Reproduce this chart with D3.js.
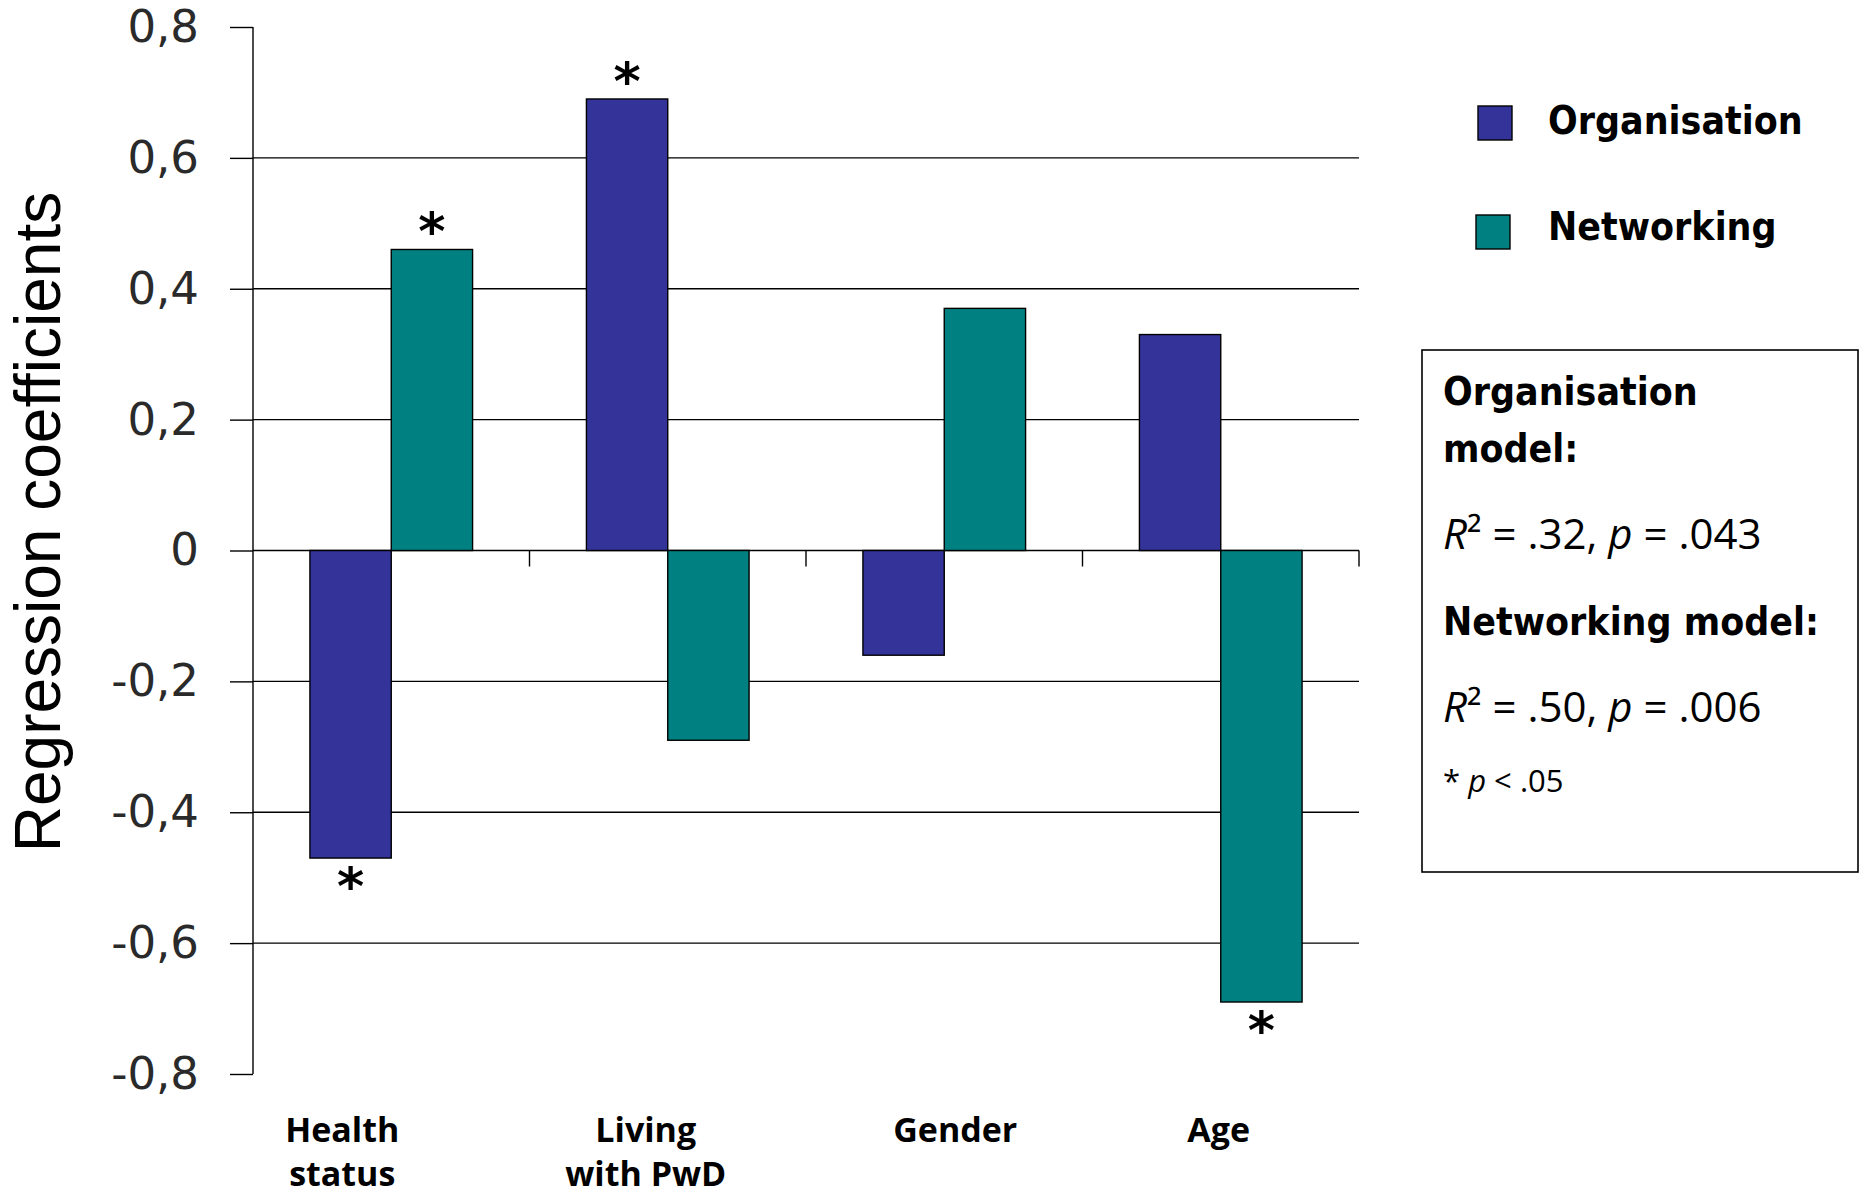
<!DOCTYPE html>
<html>
<head>
<meta charset="utf-8">
<script src="https://cdn.jsdelivr.net/npm/d3@7"></script>
<style>
  body { margin: 0; background: #fff; }
  svg { display: block; }
</style>
</head>
<body>
<div class="container"></div>
<script>
// chart data
const categories = ["Health status", "Living with PwD", "Gender", "Age"];
const categoryLines = [["Health", "status"], ["Living", "with PwD"], ["Gender"], ["Age"]];
const series = ["Organisation", "Networking"];
const organisation = [-0.47, 0.69, -0.16, 0.33];
const networking = [0.46, -0.29, 0.37, -0.69];
const organisationSig = [true, true, false, false];
const networkingSig = [true, false, false, true];
const yTicks = [-0.8, -0.6, -0.4, -0.2, 0, 0.2, 0.4, 0.6, 0.8];
const colors = ["#333399", "#008080"];

const w = 1860;
const h = 1192;
// label nudges, the source labels sit a bit off the group centres
const labelShift = [-49, -22, 11, -2];

const svg = d3.select(".container")
  .append("svg")
  .attr("width", w)
  .attr("height", h);

const y = d3.scaleLinear()
  .domain([-0.8, 0.8])
  .range([1074, 27]);

const x0 = d3.scaleBand()
  .domain(categories)
  .range([253, 1359]);

const x1 = d3.scaleBand()
  .domain(series)
  .range([0, x0.bandwidth()])
  .paddingOuter(0.7);

const locale = d3.formatLocale({decimal: ",", thousands: ".", grouping: [3], currency: ["", ""], minus: "-"});
const fmt = locale.format(".1f");

// gridlines
svg.append("g")
  .selectAll("line")
  .data(yTicks.filter(d => d !== 0 && Math.abs(d) < 0.8))
  .join("line")
  .attr("x1", 253)
  .attr("x2", 1359)
  .attr("y1", d => y(d))
  .attr("y2", d => y(d))
  .attr("stroke", "#000")
  .attr("stroke-width", 1.4);

// y axis
const yAxis = d3.axisLeft(y)
  .tickValues(yTicks)
  .tickSize(23)
  .tickPadding(31)
  .tickFormat(d => d === 0 ? "0" : fmt(d));

const gy = svg.append("g")
  .attr("transform", "translate(253,0)")
  .call(yAxis);
gy.select(".domain").remove();
gy.selectAll(".tick line").attr("stroke", "#000").attr("stroke-width", 1.4);
gy.selectAll(".tick text")
  .attr("font-family", "DejaVu Sans")
  .attr("font-size", 45)
  .attr("fill", "#2a2a2a");

gy.append("line")
  .attr("x1", 0).attr("x2", 0)
  .attr("y1", y(0.8)).attr("y2", y(-0.8))
  .attr("stroke", "#000")
  .attr("stroke-width", 1.4);

// zero line and group ticks
svg.append("line")
  .attr("x1", 253).attr("x2", 1359)
  .attr("y1", y(0)).attr("y2", y(0))
  .attr("stroke", "#000")
  .attr("stroke-width", 1.4);

svg.append("g")
  .selectAll("line")
  .data(categories)
  .join("line")
  .attr("x1", d => x0(d) + x0.bandwidth())
  .attr("x2", d => x0(d) + x0.bandwidth())
  .attr("y1", y(0))
  .attr("y2", y(0) + 16)
  .attr("stroke", "#000")
  .attr("stroke-width", 1.4);

// bars
const rows = categories.map((c, i) => ({
  cat: c,
  vals: [
    {s: series[0], v: organisation[i], sig: organisationSig[i], c: colors[0]},
    {s: series[1], v: networking[i], sig: networkingSig[i], c: colors[1]}
  ]
}));

const groups = svg.append("g")
  .selectAll("g")
  .data(rows)
  .join("g")
  .attr("transform", d => "translate(" + x0(d.cat) + ",0)");

groups.selectAll("rect")
  .data(d => d.vals)
  .join("rect")
  .attr("x", d => x1(d.s))
  .attr("width", x1.bandwidth())
  .attr("y", d => Math.min(y(d.v), y(0)))
  .attr("height", d => Math.abs(y(d.v) - y(0)))
  .attr("fill", d => d.c)
  .attr("stroke", "#000")
  .attr("stroke-width", 1.4);

// significance stars
groups.selectAll("text.star")
  .data(d => d.vals.filter(v => v.sig))
  .join("text")
  .attr("class", "star")
  .attr("x", d => x1(d.s) + x1.bandwidth() / 2)
  .attr("y", d => d.v > 0 ? y(d.v) : y(d.v) + 46)
  .attr("text-anchor", "middle")
  .attr("font-family", "DejaVu Sans")
  .attr("font-weight", "bold")
  .attr("font-size", 52)
  .text("*");

// category labels
svg.append("g")
  .selectAll("text")
  .data(categories)
  .join("text")
  .attr("x", (d, i) => x0(d) + x0.bandwidth() / 2 + labelShift[i])
  .attr("y", 1142)
  .attr("text-anchor", "middle")
  .attr("font-family", "Open Sans")
  .attr("font-weight", "bold")
  .attr("font-size", 34)
  .each(function(d, i) {
    const t = d3.select(this);
    const cx = x0(d) + x0.bandwidth() / 2 + labelShift[i];
    categoryLines[i].forEach((line, k) => {
      t.append("tspan")
        .attr("x", cx)
        .attr("dy", k === 0 ? 0 : 44)
        .text(line);
    });
  });

// y title
svg.append("text")
  .attr("transform", "translate(60,522) rotate(-90)")
  .attr("text-anchor", "middle")
  .attr("font-family", "Liberation Sans")
  .attr("font-size", 64)
  .text("Regression coefficients");

// bold text helper, the source type is a little taller than normal
function boldText(g, x, yy, str) {
  g.append("text")
    .attr("transform", "translate(" + x + "," + yy + ") scale(1,1.1)")
    .attr("font-family", "DejaVu Sans")
    .attr("font-weight", "bold")
    .attr("font-size", 35)
    .text(str);
}

// legend
const legend = svg.append("g");
series.forEach((s, i) => {
  legend.append("rect")
    .attr("x", 1478 - i * 2)
    .attr("y", 106 + i * 109)
    .attr("width", 34)
    .attr("height", 34)
    .attr("fill", colors[i])
    .attr("stroke", "#000")
    .attr("stroke-width", 1.4);
  boldText(legend, 1548, 134 + i * 106, s);
});

// model box
const box = svg.append("g");
box.append("rect")
  .attr("x", 1422)
  .attr("y", 350)
  .attr("width", 436)
  .attr("height", 522)
  .attr("fill", "#fff")
  .attr("stroke", "#000")
  .attr("stroke-width", 1.6);

boldText(box, 1443, 405, "Organisation");
boldText(box, 1443, 462, "model:");
boldText(box, 1443, 635, "Networking model:");

const stats = [[".32", ".043", 549], [".50", ".006", 722]];
stats.forEach(s => {
  const t = box.append("text")
    .attr("x", 1443)
    .attr("y", s[2])
    .attr("font-family", "Open Sans")
    .attr("font-size", 42);
  t.append("tspan").attr("font-style", "italic").text("R");
  t.append("tspan").text("\u00B2 = " + s[0] + ", ");
  t.append("tspan").attr("font-style", "italic").text("p");
  t.append("tspan").text(" = " + s[1]);
});

const note = box.append("text")
  .attr("x", 1443)
  .attr("y", 792)
  .attr("font-family", "Open Sans")
  .attr("font-size", 31);
note.append("tspan").text("* ");
note.append("tspan").attr("font-style", "italic").text("p");
note.append("tspan").text(" < .05");
</script>
</body>
</html>
